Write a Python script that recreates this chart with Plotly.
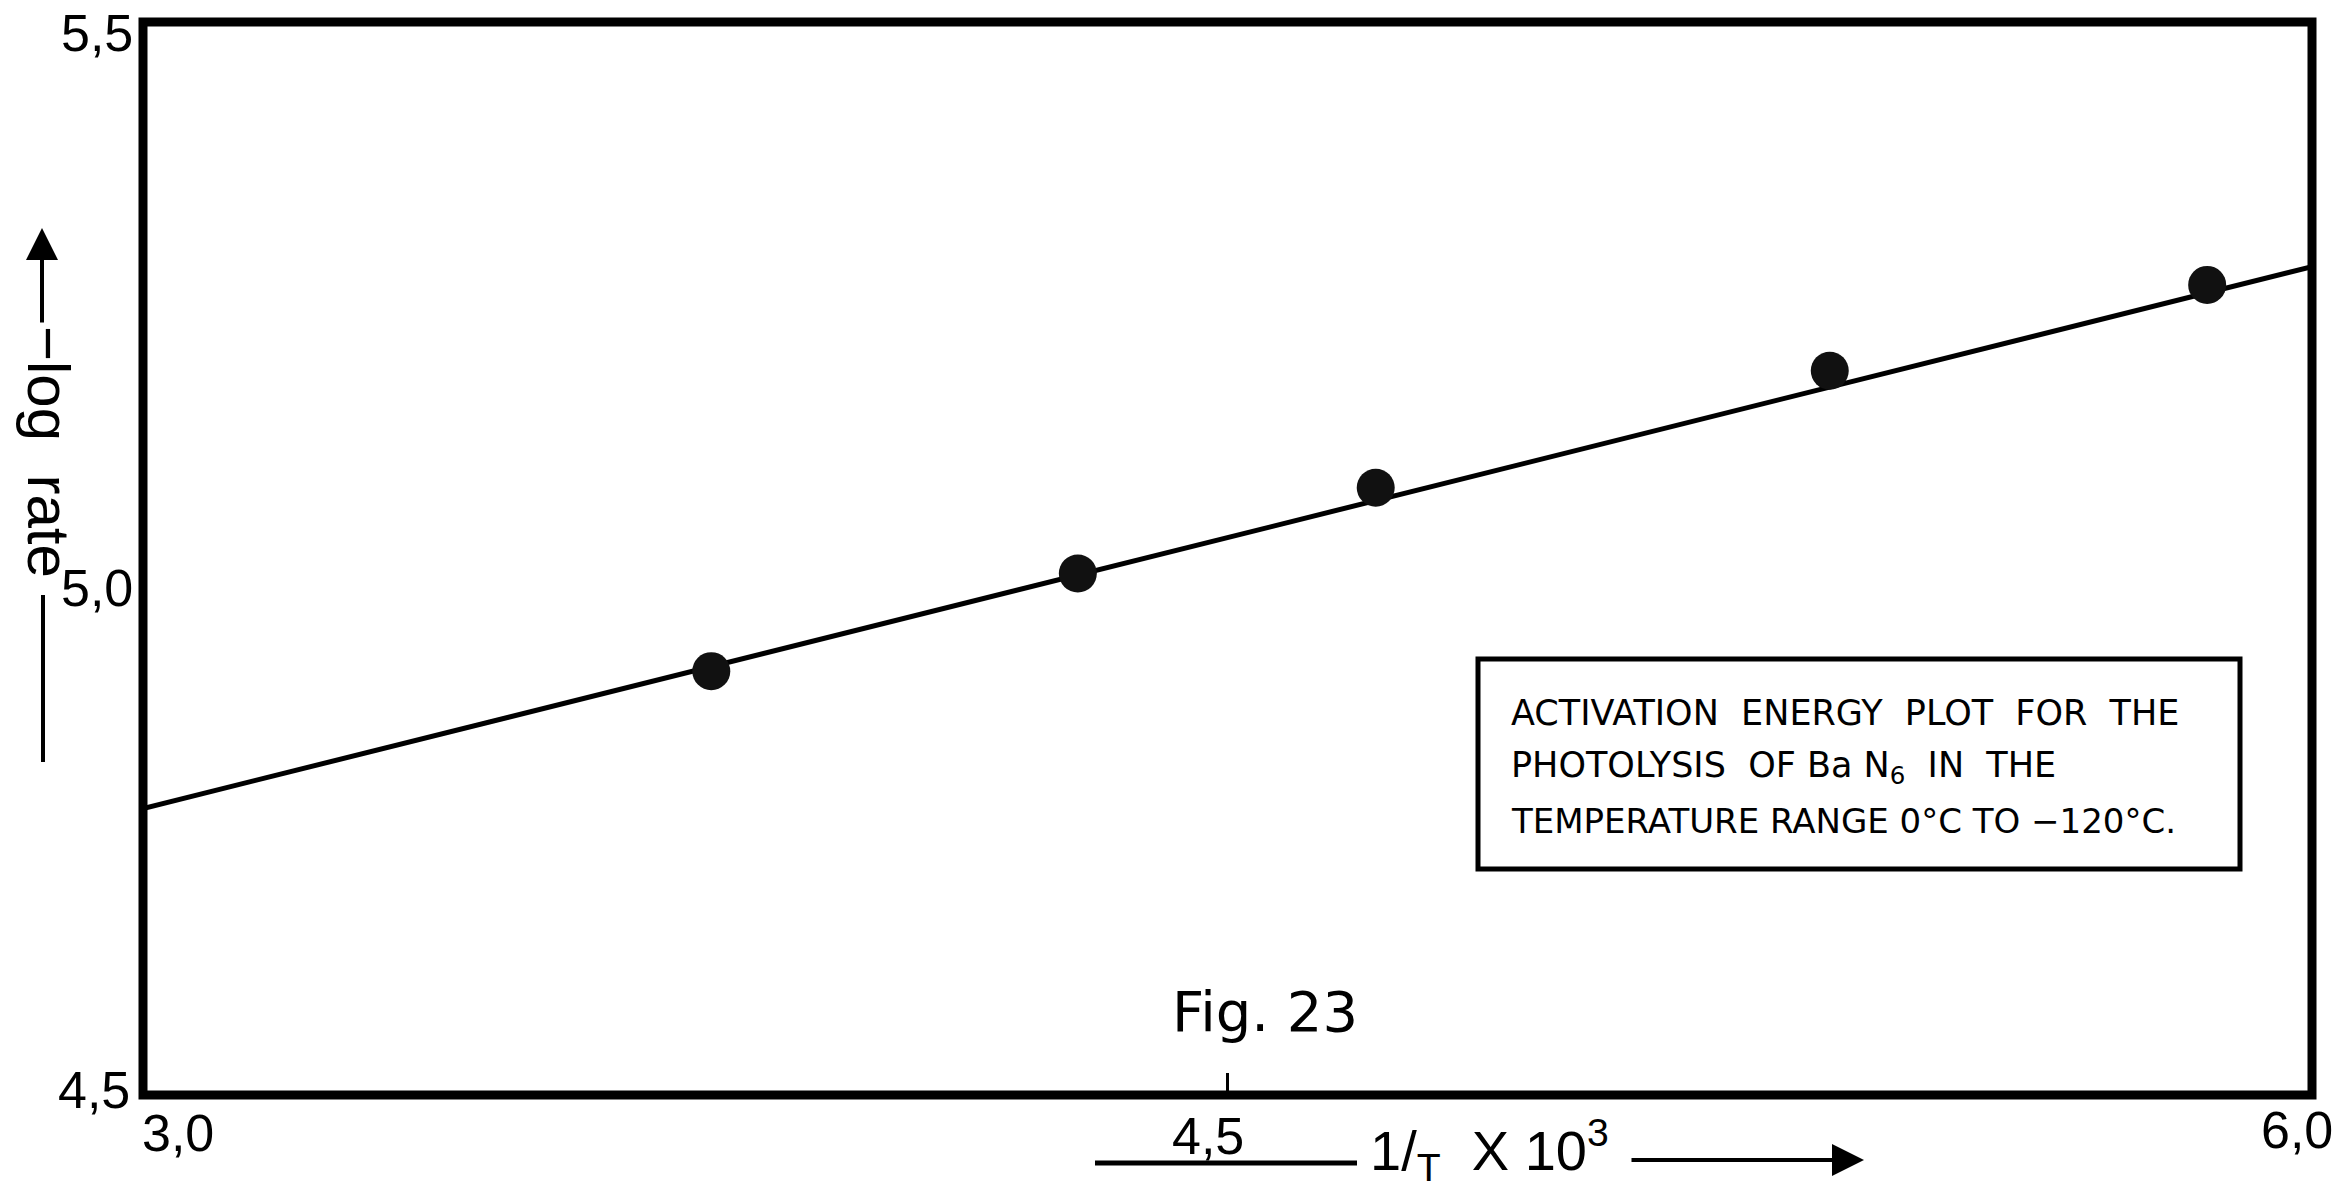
import plotly.graph_objects as go

# ---- data ----
inv_T_x1e3 = [3.786, 4.293, 4.705, 5.333, 5.855]
neg_log_rate = [4.895, 4.986, 5.066, 5.175, 5.255]
fit_x = [3.0, 6.0]
fit_y = [4.767, 5.272]
x_tick_labels = ["3,0", "4,5", "6,0"]
y_tick_labels = ["4,5", "5,0", "5,5"]

W, H = 2348, 1191
L, R, T, B = 143, 36, 22, 96
PW, PH = W - L - R, H - T - B


def px(xp):
    return (xp - L) / PW


def py(yp):
    return (H - B - yp) / PH


FONT = "Liberation Sans, DejaVu Sans, sans-serif"
NB = "\u00a0"

fig = go.Figure()
fig.add_trace(go.Scatter(x=fit_x, y=fit_y, mode="lines",
                         line=dict(color="black", width=5), showlegend=False))
fig.add_trace(go.Scatter(x=inv_T_x1e3, y=neg_log_rate, mode="markers",
                         marker=dict(color="#111111", size=38, line=dict(width=0)),
                         showlegend=False))

shapes = [
    # frame
    dict(type="rect", xref="paper", yref="paper", x0=0, x1=1, y0=0, y1=1,
         line=dict(color="black", width=9), layer="above"),
    # legend box
    dict(type="rect", xref="paper", yref="paper", x0=px(1478), x1=px(2240),
         y0=py(869), y1=py(659), line=dict(color="black", width=5),
         fillcolor="white", layer="below"),
    # y-label lower line
    dict(type="line", xref="paper", yref="paper", x0=px(43), x1=px(43),
         y0=py(595), y1=py(762), line=dict(color="black", width=4)),
    # x-label underline
    dict(type="line", xref="paper", yref="paper", x0=px(1095), x1=px(1357),
         y0=py(1163), y1=py(1163), line=dict(color="black", width=5)),
]

ann = []
tick_font = dict(family=FONT, size=52, color="black")
# y tick labels
for txt, (xx, yy) in zip(y_tick_labels, [(94, 1090), (97, 588), (97, 33)]):
    ann.append(dict(text=txt, xref="paper", yref="paper", x=px(xx), y=py(yy),
                    showarrow=False, font=tick_font, xanchor="center", yanchor="middle"))
# x tick labels
for txt, (xx, yy) in zip(x_tick_labels, [(178, 1133), (1208, 1136), (2297, 1130)]):
    ann.append(dict(text=txt, xref="paper", yref="paper", x=px(xx), y=py(yy),
                    showarrow=False, font=tick_font, xanchor="center", yanchor="middle"))

# y axis label with arrow
ann.append(dict(text="−log" + NB + NB + "rate", xref="paper", yref="paper",
                x=px(48), y=py(452),
                textangle=90, showarrow=False, xanchor="center", yanchor="middle",
                font=dict(family=FONT, size=60, color="black")))
ann.append(dict(text="", xref="paper", yref="paper", x=px(42), y=py(228),
                ax=0, ay=96, showarrow=True, arrowhead=2, arrowsize=1.6,
                arrowwidth=4, arrowcolor="black"))

# x axis label with arrow
ann.append(dict(text="1/<sub>T</sub>" + NB + NB + "X" + NB + "10<sup>3</sup>",
                xref="paper", yref="paper",
                x=px(1368), y=py(1150), showarrow=False, xanchor="left", yanchor="middle",
                font=dict(family=FONT, size=56, color="black")))
ann.append(dict(text="", xref="paper", yref="paper", x=px(1864), y=py(1160),
                ax=-234, ay=0, showarrow=True, arrowhead=2, arrowsize=1.6,
                arrowwidth=4, arrowcolor="black"))

# figure number
ann.append(dict(text="Fig. 23", xref="paper", yref="paper", x=px(1265), y=py(1011),
                showarrow=False, xanchor="center", yanchor="middle",
                font=dict(family="DejaVu Sans, sans-serif", size=56, color="black")))

# legend text
G = NB + NB
lines = [
    ("ACTIVATION" + G + "ENERGY" + G + "PLOT" + G + "FOR" + G + "THE", 713, 35),
    ("PHOTOLYSIS" + G + "OF Ba N<sub>6</sub>" + G + "IN" + G + "THE", 767, 35),
    ("TEMPERATURE RANGE 0°C TO −120°C.", 821, 34),
]
for txt, yy, fs in lines:
    ann.append(dict(text=txt, xref="paper", yref="paper", x=px(1509), y=py(yy),
                    showarrow=False, xanchor="left", yanchor="middle",
                    font=dict(family="DejaVu Sans, sans-serif", size=fs, color="black")))

fig.update_layout(
    width=W, height=H,
    margin=dict(l=L, r=R, t=T, b=B, pad=0),
    paper_bgcolor="white", plot_bgcolor="white",
    xaxis=dict(range=[3.0, 6.0], showgrid=False, zeroline=False, showline=False,
               tickvals=[4.5], ticks="inside", ticklen=22, tickwidth=3,
               tickcolor="black", showticklabels=False),
    yaxis=dict(range=[4.5, 5.5], showgrid=False, zeroline=False, showline=False,
               showticklabels=False, ticks=""),
    shapes=shapes,
    annotations=ann,
)

fig.write_html("out.html")
